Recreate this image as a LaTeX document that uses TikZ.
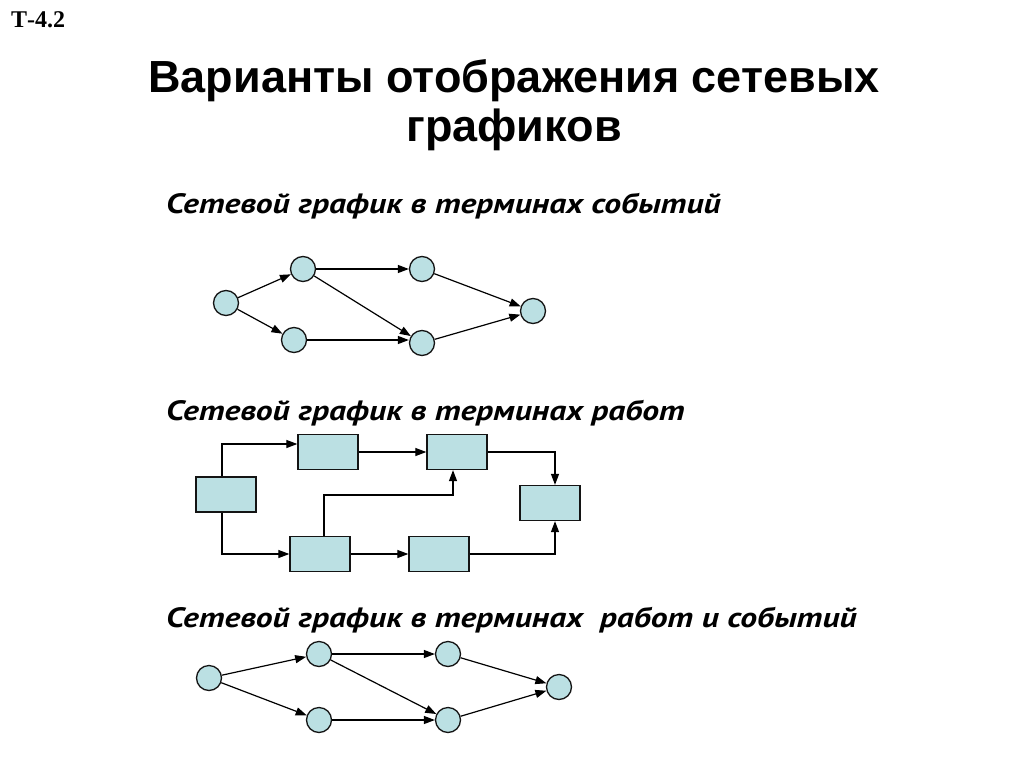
\documentclass[tikz,border=0pt]{standalone}
\usepackage{fontspec}
\setmainfont{Liberation Sans}
\newfontfamily\tnr{Liberation Serif}
\newfontfamily\ptsans[FakeStretch=1.2]{PT Sans}
\usetikzlibrary{arrows.meta}
\definecolor{fillblue}{RGB}{187,224,227}
\definecolor{edge}{RGB}{20,20,20}
\tikzset{
  ev/.style={circle, draw=edge, fill=fillblue, line width=1.3pt, minimum size=25pt, inner sep=0pt},
  job/.style={rectangle, draw=edge, fill=fillblue, line width=1.3pt, minimum width=60pt, minimum height=35pt, inner sep=0pt},
  arr/.style={draw=black, line width=1.2pt, -{Triangle[length=11pt,width=8pt]}},
  sub/.style={anchor=base west, inner sep=0pt, font=\ptsans\fontsize{28}{32}\selectfont\bfseries\itshape},
}
\begin{document}
\begin{tikzpicture}[x=1pt,y=-1pt]
\useasboundingbox[fill=white] (0,0) rectangle (1024,768);

\node[anchor=base west, inner sep=0pt, font=\tnr\fontsize{24}{28}\selectfont\bfseries] (code) at (11,28) {Т-4.2};
\node[anchor=base, inner sep=0pt, font=\fontsize{45}{50}\selectfont\bfseries] (t1) at (514,92) {Варианты отображения сетевых};
\node[anchor=base, inner sep=0pt, font=\fontsize{45}{50}\selectfont\bfseries] (t2) at (514,141) {графиков};

\node[sub] (s1) at (166,213) {Сетевой график в терминах событий};
\node[sub] (s2) at (166,420) {Сетевой график в терминах работ};
\node[sub] (s3) at (166,627) {Сетевой график в терминах\ \ работ и событий};

% graph 1
\node[ev] (a1) at (226,303) {};
\node[ev] (b1) at (303,269) {};
\node[ev] (c1) at (294,340) {};
\node[ev] (d1) at (422,269) {};
\node[ev] (e1) at (422,343) {};
\node[ev] (f1) at (533,311) {};
\draw[arr] (a1) -- (b1);
\draw[arr] (a1) -- (c1);
\draw[arr] (b1) -- (d1);
\draw[arr] (b1) -- (e1);
\draw[arr] (c1) -- (c1 -| e1.west);
\draw[arr] (d1) -- (f1);
\draw[arr] (e1) -- (f1);

% graph 2
\node[job] (r1) at (226,494.5) {};
\node[job] (r2) at (328,452) {};
\node[job] (r3) at (457,452) {};
\node[job] (r4) at (550,503) {};
\node[job] (r5) at (320,554) {};
\node[job] (r6) at (439,554) {};
\coordinate (k) at (453,495);
\draw[arr] ([xshift=-4pt]r1.north) |- ([yshift=8pt]r2.west);
\draw[arr] ([xshift=-4pt]r1.south) |- (r5.west);
\draw[arr] (r2) -- (r3);
\draw[arr] (r3.east) -| ([xshift=5pt]r4.north);
\draw[arr] ([xshift=4pt]r5.north) |- (k) -- ([xshift=-4pt]r3.south);
\draw[arr] (r5) -- (r6);
\draw[arr] (r6.east) -| ([xshift=5pt]r4.south);

% graph 3
\node[ev] (a3) at (209,678) {};
\node[ev] (b3) at (319,654) {};
\node[ev] (c3) at (319,720) {};
\node[ev] (d3) at (448,654) {};
\node[ev] (e3) at (448,720) {};
\node[ev] (f3) at (559,687) {};
\draw[arr] (a3) -- (b3);
\draw[arr] (a3) -- (c3);
\draw[arr] (b3) -- (d3);
\draw[arr] (b3) -- (e3);
\draw[arr] (c3) -- (e3);
\draw[arr] (d3) -- (f3);
\draw[arr] (e3) -- (f3);
\end{tikzpicture}
\end{document}
